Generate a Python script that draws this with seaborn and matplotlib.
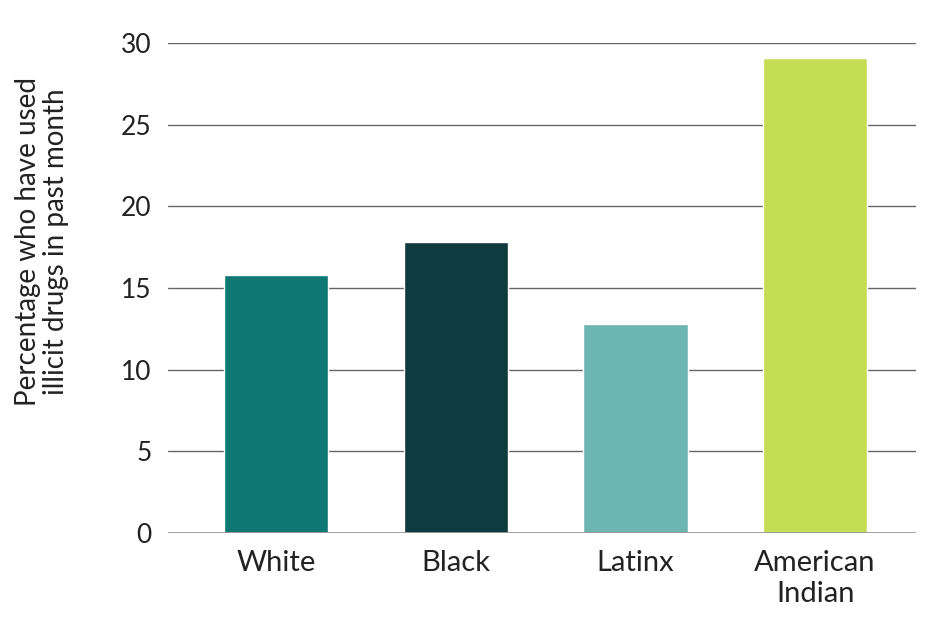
import matplotlib
matplotlib.use('Agg')
import matplotlib.pyplot as plt
import seaborn as sns
import pandas as pd

groups = ['White', 'Black', 'Latinx', 'American\nIndian']
pct_used = [15.8, 17.8, 12.8, 29.1]
bar_colors = ['#0f7872', '#0f3a40', '#6db5b0', '#c5dc55']
yticks = [0, 5, 10, 15, 20, 25, 30]

sns.set_style('white')
plt.rcParams['font.family'] = ['Lato', 'DejaVu Sans']

df = pd.DataFrame({'group': groups, 'pct': pct_used})

fig = plt.figure(figsize=(9.5, 6.33), dpi=100)
ax = fig.add_axes([0.177, 0.158, 0.787, 0.774])

sns.barplot(data=df, x='group', y='pct', hue='group', palette=bar_colors,
            width=0.58, legend=False, ax=ax, zorder=3, saturation=1)

ax.set_ylim(0, 30)
ax.set_xlim(-0.6, 3.56)
ax.set_yticks(yticks)
ax.set_yticklabels([str(t) for t in yticks], fontsize=19, color='#222222')
for t in yticks[1:]:
    ax.axhline(t, color='#666666', lw=1, zorder=1)
ax.axhline(0, color='#999999', lw=2, zorder=4)

ax.tick_params(axis='y', length=0, pad=12)
ax.tick_params(axis='x', length=0, pad=12, labelcolor='#222222')
for lbl in ax.get_xticklabels():
    lbl.set_fontsize(21)
    lbl.set_linespacing(1.25)
ax.set_xlabel('')
ax.set_ylabel('Percentage who have used\nillicit drugs in past month',
              fontsize=20, color='#222222', linespacing=1.1)
ax.yaxis.set_label_coords(-0.133, 0.595)
sns.despine(ax=ax, left=True, bottom=True)

fig.savefig('out.png', dpi=100)
